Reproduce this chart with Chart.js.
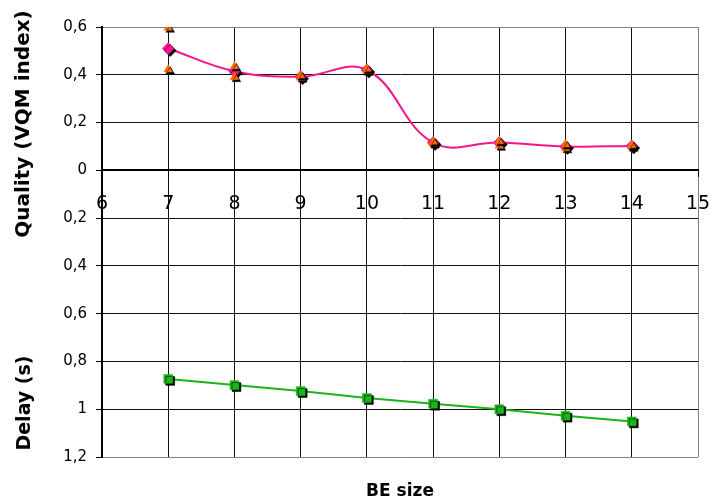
<!DOCTYPE html>
<html>
<head>
<meta charset="utf-8">
<script src="https://cdn.jsdelivr.net/npm/chart.js@4"></script>
<style>
  html, body { margin: 0; padding: 0; background: #fff; }
  #wrap { width: 712px; height: 502px; position: relative; }
</style>
</head>
<body>
<div id="wrap"><canvas id="c"></canvas></div>
<script>
// ---- data ----
const beSize      = [7, 8, 9, 10, 11, 12, 13, 14];
const qualityMean = [0.510, 0.415, 0.392, 0.420, 0.116, 0.116, 0.100, 0.102];
const qualityMax  = [0.597, 0.435, 0.397, 0.425, 0.120, 0.122, 0.108, 0.105];
const qualityMin  = [0.422, 0.390, 0.388, 0.417, 0.112, 0.103, 0.092, 0.099];
const delaySec    = [0.873, 0.899, 0.924, 0.953, 0.977, 1.000, 1.027, 1.051];
const xTicks      = [6, 7, 8, 9, 10, 11, 12, 13, 14, 15];
const yTicks      = [0.6, 0.4, 0.2, 0, -0.2, -0.4, -0.6, -0.8, -1.0, -1.2];
const titleQuality = 'Quality (VQM index)';
const titleDelay   = 'Delay (s)';
const titleX       = 'BE size';

const pts = (vals, sign) => beSize.map((x, i) => ({ x: x, y: sign * vals[i] }));
const fmt = v => String(Math.round(Math.abs(v) * 10) / 10).replace('.', ',');

const PINK = '#F5148C', ORANGE = '#FF6A00', GREEN = '#1CB41C';

const shadowPlugin = {
  id: 'markerShadow',
  beforeDatasetDraw(chart, args) {
    const ds = chart.data.datasets[args.index];
    if (ds.markerShadow) {
      const ctx = chart.ctx;
      ctx.save();
      ctx.shadowColor = '#000';
      ctx.shadowOffsetX = 2;
      ctx.shadowOffsetY = 2;
      ctx.shadowBlur = 0;
    }
  },
  afterDatasetDraw(chart, args) {
    const ds = chart.data.datasets[args.index];
    if (ds.markerShadow) chart.ctx.restore();
  }
};

const titlesPlugin = {
  id: 'axisTitles',
  afterDraw(chart) {
    const ctx = chart.ctx;
    ctx.save();
    ctx.fillStyle = '#000';
    ctx.textAlign = 'center';
    ctx.textBaseline = 'middle';
    // Quality title
    ctx.font = 'bold 20px "DejaVu Sans"';
    ctx.save();
    ctx.translate(24, 124);
    ctx.rotate(-Math.PI / 2);
    ctx.fillText(titleQuality, 0, 0);
    ctx.restore();
    // Delay title
    ctx.font = 'bold 19px "DejaVu Sans"';
    ctx.save();
    ctx.translate(25, 403);
    ctx.rotate(-Math.PI / 2);
    ctx.fillText(titleDelay, 0, 0);
    ctx.restore();
    // X title
    ctx.font = 'bold 17px "DejaVu Sans"';
    const ca = chart.chartArea;
    ctx.fillText(titleX, (ca.left + ca.right) / 2, 492);
    ctx.restore();
  }
};

const gridCol = (ctx) => {
  const v = ctx.tick ? ctx.tick.value : null;
  if (v === null) return '#111';
  if (Math.abs(v - 0.6) < 1e-6 || Math.abs(v + 1.2) < 1e-6 || Math.abs(v - 15) < 1e-6) return '#808080';
  return '#111';
};

new Chart(document.getElementById('c'), {
  type: 'line',
  data: {
    datasets: [
      { label: 'max', data: pts(qualityMax, 1), showLine: false, markerShadow: true,
        pointStyle: 'triangle', pointRadius: 5, pointBackgroundColor: ORANGE, pointBorderColor: ORANGE, pointBorderWidth: 0.5 },
      { label: 'min', data: pts(qualityMin, 1), showLine: false, markerShadow: true,
        pointStyle: 'triangle', pointRadius: 5, pointBackgroundColor: ORANGE, pointBorderColor: ORANGE, pointBorderWidth: 0.5 },
      { label: 'quality points', data: pts(qualityMean, 1), showLine: false, markerShadow: true,
        pointStyle: 'rectRot', pointRadius: 6, pointBackgroundColor: PINK, pointBorderColor: PINK, pointBorderWidth: 0.5 },
      { label: 'quality', data: pts(qualityMean, 1), borderColor: PINK, borderWidth: 2,
        tension: 0.4, pointRadius: 0, fill: false },
      { label: 'delay points', data: pts(delaySec, -1), showLine: false, markerShadow: true,
        pointStyle: 'rect', pointRadius: 6.3, pointBackgroundColor: GREEN, pointBorderColor: GREEN, pointBorderWidth: 0.5 },
      { label: 'delay', data: pts(delaySec, -1), borderColor: GREEN, borderWidth: 2,
        tension: 0, pointRadius: 0, fill: false }
    ]
  },
  options: {
    responsive: true,
    maintainAspectRatio: false,
    animation: false,
    events: [],
    layout: { padding: { top: 27, right: 14, bottom: 45, left: 0 } },
    plugins: { legend: { display: false }, tooltip: { enabled: false } },
    scales: {
      x: {
        type: 'linear',
        position: { y: 0 },
        min: xTicks[0], max: xTicks[xTicks.length - 1],
        afterBuildTicks: s => { s.ticks = xTicks.map(v => ({ value: v })); },
        afterFit: s => { s.paddingLeft = 0; s.paddingRight = 0; },
        ticks: { color: '#000', font: { family: 'DejaVu Sans', size: 19 }, padding: 16, maxRotation: 0, autoSkip: false },
        grid: { color: gridCol, lineWidth: 1, tickLength: 6, tickColor: '#000' },
        border: { display: true, color: '#000', width: 2 }
      },
      y: {
        type: 'linear',
        position: 'left',
        min: -1.2, max: 0.6,
        afterBuildTicks: s => { s.ticks = yTicks.map(v => ({ value: v })); },
        afterFit: s => { s.width = 102; s.paddingTop = 0; s.paddingBottom = 0; },
        ticks: { color: '#000', font: { family: 'DejaVu Sans', size: 15 }, padding: 9,
                 callback: v => fmt(v) },
        grid: { color: gridCol, lineWidth: 1, tickLength: 6, tickColor: '#000' },
        border: { display: true, color: '#000', width: 2 }
      }
    }
  },
  plugins: [shadowPlugin, titlesPlugin]
});
</script>
</body>
</html>
